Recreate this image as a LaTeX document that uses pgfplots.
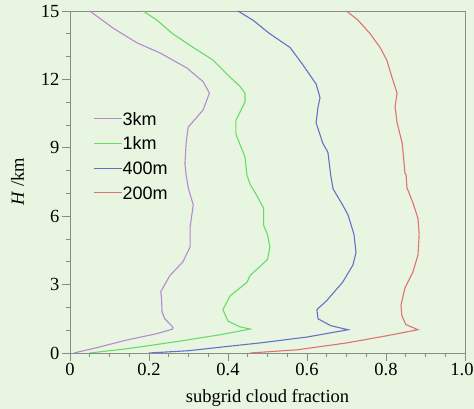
\documentclass[border=0pt]{standalone}
\usepackage{fontspec}
\setmainfont{Liberation Serif}
\newfontfamily\legendfont{Liberation Sans}
\usepackage{pgfplots}
\pgfplotsset{compat=1.18}
\definecolor{bg}{HTML}{E8F5E1}
\definecolor{c3km}{HTML}{B58AD0}
\definecolor{c1km}{HTML}{66DD66}
\definecolor{c400}{HTML}{6670C8}
\definecolor{c200}{HTML}{E07272}
\definecolor{axgray}{HTML}{8A8A8A}
\begin{document}
\begin{tikzpicture}
\fill[bg] (-70pt,-56pt) rectangle (404pt,353pt);
\begin{axis}[
  at={(0,0)}, anchor=south west,
  scale only axis, width=395pt, height=342pt,
  xmin=0, xmax=1, ymin=0, ymax=15,
  xtick={0,0.2,0.4,0.6,0.8,1.0},
  xticklabels={0,0.2,0.4,0.6,0.8,{\kern-6pt 1.0}},
  ytick={0,3,6,9,12,15},
  yticklabels={0,3,6,9,12,15},
  minor x tick num=3, minor y tick num=2,
  tick align=outside, tick pos=left,
  major tick length=8pt, minor tick length=4pt,
  every tick/.style={axgray, line width=0.8pt},
  axis line style={axgray, line width=0.8pt},
  tick label style={font=\fontsize{18.5}{20}\selectfont, text=black},
  xticklabel style={yshift=1pt},
  yticklabel style={xshift=1pt},
  label style={font=\fontsize{18.5}{20}\selectfont},
  xlabel={subgrid cloud fraction},
  ylabel={\textit{H} /km},
  xlabel style={yshift=-7pt},
  ylabel style={yshift=10pt},
  axis background/.style={fill=bg},
  legend style={at={(axis cs:0.058,10.6)}, anchor=north west, draw=none, fill=none,
    inner sep=0pt,
    font=\fontsize{18}{20}\selectfont\legendfont, row sep=10.8pt,
    nodes={inner sep=0.5pt, text height=13pt, text depth=0pt}},
  legend cell align=left,
  legend image code/.code={\draw[#1] (0pt,0pt) -- (28pt,0pt);},
  every axis plot/.append style={line width=1.1pt},
]
\addplot[c3km] coordinates {
(0.01,0) (0.06,0.2) (0.144,0.57) (0.22,0.85) (0.26,1.05) (0.26,1.15) (0.24,1.5)
(0.233,1.8) (0.232,2.3) (0.23,2.7) (0.253,3.4) (0.286,4.0) (0.304,4.65) (0.304,5.5)
(0.312,6.5) (0.30,7.2) (0.294,7.8) (0.291,8.3) (0.294,9.2) (0.299,9.9) (0.337,10.66)
(0.353,11.4) (0.337,11.9) (0.296,12.5) (0.228,13.16) (0.17,13.6) (0.109,14.25) (0.05,15)};
\addlegendentry{3km}
\addplot[c1km] coordinates {
(0.05,0) (0.15,0.2) (0.27,0.5) (0.38,0.8) (0.456,1.05) (0.43,1.15) (0.40,1.4)
(0.387,1.9) (0.405,2.5) (0.448,3.1) (0.456,3.4) (0.50,4.1) (0.506,4.65) (0.50,5.2)
(0.49,5.6) (0.49,6.35) (0.473,6.9) (0.456,7.4) (0.448,7.8) (0.443,8.6) (0.42,9.6)
(0.42,10.2) (0.443,11.0) (0.443,11.4) (0.43,11.7) (0.405,12.1) (0.362,12.85)
(0.312,13.4) (0.26,14.0) (0.22,14.6) (0.185,15)};
\addlegendentry{1km}
\addplot[c400] coordinates {
(0.20,0) (0.30,0.1) (0.405,0.3) (0.48,0.44) (0.60,0.7) (0.704,1.02) (0.66,1.2)
(0.628,1.5) (0.625,1.9) (0.65,2.3) (0.69,3.1) (0.716,3.85) (0.724,4.4) (0.719,5.2)
(0.704,6.05) (0.69,6.5) (0.666,7.2) (0.66,7.8) (0.653,8.8) (0.64,9.2) (0.623,10.1)
(0.628,10.8) (0.633,11.2) (0.623,11.8) (0.587,12.7) (0.557,13.4) (0.506,14.0)
(0.463,14.6) (0.425,15)};
\addlegendentry{400m}
\addplot[c200] coordinates {
(0.456,0) (0.575,0.14) (0.70,0.44) (0.80,0.75) (0.881,1.02) (0.85,1.25) (0.84,1.65)
(0.838,2.1) (0.848,2.85) (0.868,3.55) (0.881,4.3) (0.884,5.2) (0.881,5.9) (0.868,6.6)
(0.853,7.25) (0.851,7.8) (0.848,7.9) (0.841,9.2) (0.828,10.1) (0.823,10.8) (0.828,11.4)
(0.815,12.1) (0.802,12.85) (0.785,13.4) (0.76,14.0) (0.729,14.6) (0.70,15)};
\addlegendentry{200m}
\end{axis}
\pgfresetboundingbox
\path[use as bounding box] (-70pt,-56pt) rectangle (404pt,353pt);
\end{tikzpicture}
\end{document}
